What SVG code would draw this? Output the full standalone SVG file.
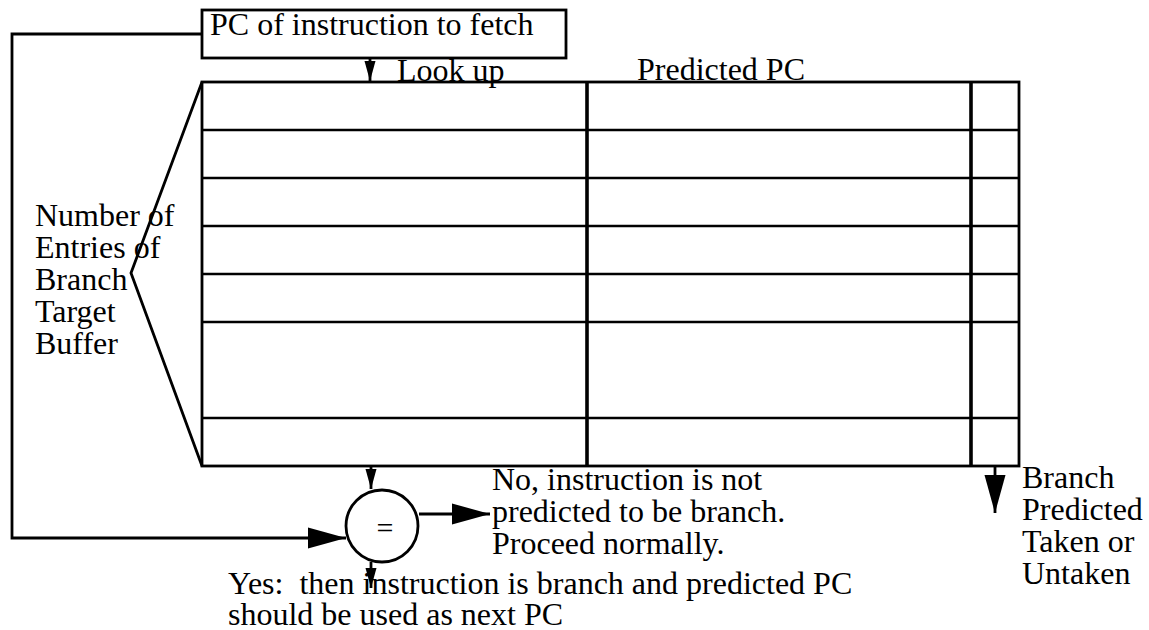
<svg xmlns="http://www.w3.org/2000/svg" width="1149" height="630" viewBox="0 0 1149 630">
<style>
text{font-family:"Liberation Serif","Times New Roman",serif;font-size:32px;fill:#000;white-space:pre}
.ln{fill:none;stroke:#000;stroke-width:2.8}
.row{stroke:#000;stroke-width:2.6}
.col{stroke:#000;stroke-width:3.6}
</style>
<defs>
<marker id="sm" markerUnits="userSpaceOnUse" markerWidth="22" markerHeight="14" refX="20" refY="6" orient="auto" viewBox="0 0 22 12">
<polygon points="0,0.5 20,6 0,11.5" fill="#000"/>
</marker>
<marker id="lg" markerUnits="userSpaceOnUse" markerWidth="40" markerHeight="24" refX="38" refY="11" orient="auto" viewBox="0 0 40 22">
<polygon points="0,0.5 38,11 0,21.5" fill="#000"/>
</marker>
</defs>
<g id="pc-box">
<rect x="202" y="10" width="364" height="48" class="ln"/>
<text x="210" y="35">PC of instruction to fetch</text>
</g>
<g id="btb">
<rect x="202" y="82" width="817" height="384" class="ln"/>
<line x1="202" y1="130" x2="1019" y2="130" class="row"/>
<line x1="202" y1="178" x2="1019" y2="178" class="row"/>
<line x1="202" y1="226" x2="1019" y2="226" class="row"/>
<line x1="202" y1="274" x2="1019" y2="274" class="row"/>
<line x1="202" y1="322" x2="1019" y2="322" class="row"/>
<line x1="202" y1="418" x2="1019" y2="418" class="row"/>
<line x1="587" y1="82" x2="587" y2="466" class="col"/>
<line x1="971" y1="82" x2="971" y2="466" class="col"/>
<text x="397" y="81">Look up</text>
<text x="637" y="80">Predicted PC</text>
</g>
<g id="entries-label">
<polyline points="202,82 131,273 202,466" class="ln"/>
<text x="35" y="226">Number of</text>
<text x="35" y="258">Entries of</text>
<text x="35" y="290">Branch</text>
<text x="35" y="322">Target</text>
<text x="35" y="354">Buffer</text>
</g>
<g id="compare">
<circle cx="382" cy="526" r="36" class="ln"/>
<text x="385" y="538" text-anchor="middle" style="font-size:30px">=</text>
</g>
<g id="no-label">
<text x="492" y="490">No, instruction is not</text>
<text x="492" y="522">predicted to be branch.</text>
<text x="492" y="554">Proceed normally.</text>
</g>
<g id="yes-label">
<text x="228" y="594">Yes:  then instruction is branch and predicted PC</text>
<text x="228" y="625">should be used as next PC</text>
</g>
<g id="branch-label">
<text x="1022" y="488">Branch</text>
<text x="1022" y="520">Predicted</text>
<text x="1022" y="552">Taken or</text>
<text x="1022" y="584">Untaken</text>
</g>
<g id="connectors">
<line x1="370" y1="58" x2="370" y2="81" class="ln" marker-end="url(#sm)"/>
<line x1="371" y1="467" x2="371" y2="489" class="ln" marker-end="url(#sm)"/>
<line x1="371" y1="562" x2="371" y2="588" class="ln" marker-end="url(#sm)"/>
<polyline points="202,34 12,34 12,538 346,538" class="ln" marker-end="url(#lg)"/>
<line x1="419" y1="514" x2="490" y2="514" class="ln" marker-end="url(#lg)"/>
<line x1="995" y1="467" x2="995" y2="513" class="ln" marker-end="url(#lg)"/>
</g>
</svg>
